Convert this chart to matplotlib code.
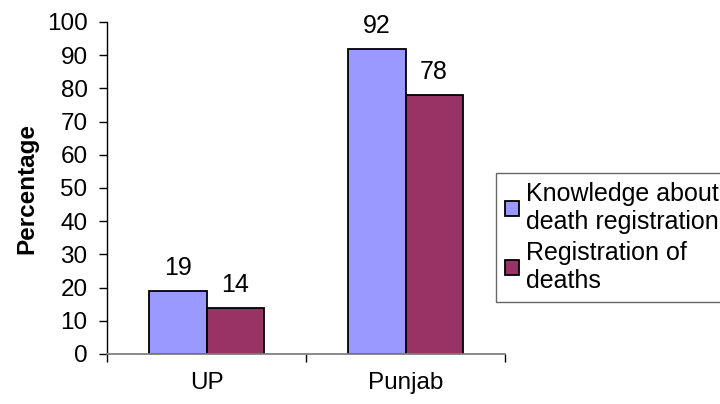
import numpy as np
import matplotlib.pyplot as plt

plt.rcParams['font.family'] = ['Liberation Sans', 'DejaVu Sans']

states = ['UP', 'Punjab']
knowledge = [19, 92]
registration = [14, 78]
series_names = ['Knowledge about\ndeath registration', 'Registration of\ndeaths']
colors = ['#9999FF', '#993366']

fig = plt.figure(figsize=(7.2, 4.04), dpi=100)
ax = fig.add_axes([107 / 720, 50 / 404, 398 / 720, 332 / 404])

x = np.arange(len(states))
w = 0.287
b1 = ax.bar(x - w / 2, knowledge, w, color=colors[0], edgecolor='black', linewidth=1.3, label=series_names[0])
b2 = ax.bar(x + w / 2, registration, w, color=colors[1], edgecolor='black', linewidth=1.3, label=series_names[1])

for bars in (b1, b2):
    for rect in bars:
        h = rect.get_height()
        ax.annotate(f'{h:.0f}', (rect.get_x() + rect.get_width() / 2, h),
                    xytext=(0, 11.5), textcoords='offset points',
                    ha='center', va='baseline', fontsize=18)

ax.set_xlim(-0.5, 1.5)
ax.set_ylim(0, 100)
ax.set_yticks(range(0, 101, 10))
ax.tick_params(axis='y', labelsize=17.5, length=6, width=1, direction='out', pad=8)
ax.set_xticks([-0.5, 0.5, 1.5])
ax.set_xticklabels([])
ax.set_xticks(x, minor=True)
ax.set_xticklabels(states, minor=True)
ax.tick_params(axis='x', which='major', length=6, width=1, direction='out')
ax.tick_params(axis='x', which='minor', length=0, labelsize=17.5, pad=13)

ax.spines['top'].set_visible(False)
ax.spines['right'].set_visible(False)
ax.spines['bottom'].set_color('#808080')
ax.spines['bottom'].set_linewidth(1.3)
ax.spines['left'].set_linewidth(1)

ax.set_ylabel('Percentage', fontsize=17.5, fontweight='bold', labelpad=6)

leg = fig.legend(loc='upper left', bbox_to_anchor=(496 / 720, 1 - 173 / 404),
                 fontsize=18, frameon=True, fancybox=False,
                 handlelength=0.55, handleheight=0.55, handletextpad=0.3,
                 labelspacing=0.3, borderpad=0.35, borderaxespad=0)
leg.get_frame().set_edgecolor('#404040')
leg.get_frame().set_linewidth(1)

fig.savefig('out.png', dpi=100)
